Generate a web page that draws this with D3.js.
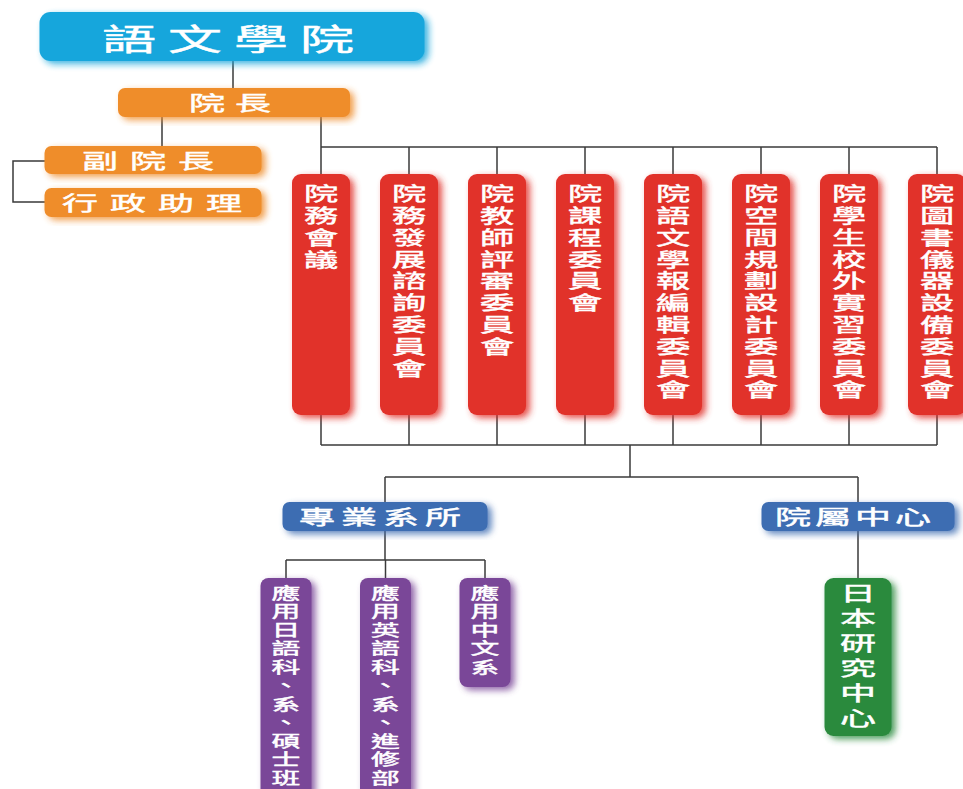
<html>
<script src="https://d3js.org/d3.v7.min.js"></script>
<body style="margin:0;background:#fff">
<div id="chart-container"></div>
<script>
// org chart data
const title = "語文學院";
const dean = "院長";
const staff = ["副院長", "行政助理"];
const committees = ["院務會議", "院務發展諮詢委員會", "院教師評審委員會", "院課程委員會",
                    "院語文學報編輯委員會", "院空間規劃設計委員會", "院學生校外實習委員會", "院圖書儀器設備委員會"];
const units = ["專業系所", "院屬中心"];
const departments = ["應用日語科、系、碩士班", "應用英語科、系、進修部", "應用中文系"];
const centers = ["日本研究中心"];

const width = 963, height = 789;
const sx = 1.8;   // the picture is stretched sideways
const font = "'Noto Sans CJK TC', 'Noto Sans CJK SC', sans-serif";
const lineColor = "#3a3a3a";

const svg = d3.select("#chart-container").append("svg")
  .attr("width", width).attr("height", height);

// soft coloured shadow under every box
const f = svg.append("defs").append("filter").attr("id", "glow")
  .attr("x", "-30%").attr("y", "-30%").attr("width", "160%").attr("height", "160%");
f.append("feGaussianBlur").attr("in", "SourceGraphic").attr("stdDeviation", 3.5).attr("result", "b");
f.append("feOffset").attr("in", "b").attr("dx", 4).attr("dy", 3).attr("result", "o");
f.append("feComponentTransfer").attr("in", "o").attr("result", "s")
  .append("feFuncA").attr("type", "linear").attr("slope", 0.85);
const fm = f.append("feMerge");
fm.append("feMergeNode").attr("in", "s");
fm.append("feMergeNode").attr("in", "SourceGraphic");

// scales for the rows of boxes
const xCommittee = d3.scalePoint().domain(committees).range([321, 937]);
const xUnit = d3.scalePoint().domain(units).range([385, 858]);
const xDept = d3.scalePoint().domain(departments).range([286, 485]);
const xStaff = 153;

const gLines = svg.append("g").attr("stroke", lineColor).attr("stroke-width", 1.5).attr("fill", "none");
const gBoxes = svg.append("g");

function line(pts) {
  gLines.append("path").attr("d", d3.line()(pts));
}

function glyph(x, y, c, size) {
  gBoxes.append("text")
    .attr("transform", `translate(${x},${y}) scale(${sx},1)`)
    .attr("text-anchor", "middle").attr("dominant-baseline", "central")
    .attr("font-family", font).attr("font-size", size)
    .attr("fill", "#fff").attr("stroke", "#fff").attr("stroke-width", 0.45)
    .text(c);
}

// horizontal box, characters spread along a row
function hBox(cx, cy, w, h, r, color, text, size, step, tx) {
  gBoxes.append("rect")
    .attr("x", cx - w / 2).attr("y", cy - h / 2)
    .attr("width", w).attr("height", h).attr("rx", r)
    .attr("fill", color).attr("filter", "url(#glow)");
  const chars = Array.from(text);
  const x0 = tx - step * (chars.length - 1) / 2;
  chars.forEach((c, i) => glyph(x0 + i * step, cy, c, size));
}

// vertical box, characters stacked downwards
function vBox(cx, top, w, h, r, color, text, size, step, firstY) {
  const chars = Array.from(text);
  if (h == null) h = (firstY - top) + step * (chars.length - 1) + 21;
  gBoxes.append("rect")
    .attr("x", cx - w / 2).attr("y", top)
    .attr("width", w).attr("height", h).attr("rx", r)
    .attr("fill", color).attr("filter", "url(#glow)");
  chars.forEach((c, i) => glyph(cx, firstY + i * step, c, size));
}

// connectors
line([[233, 61], [233, 88]]);
line([[162, 117], [162, 146]]);
line([[45, 161], [13, 161], [13, 202], [45, 202]]);
line([[321, 117], [321, 147]]);
line([[xCommittee(committees[0]), 147], [xCommittee(committees[committees.length - 1]), 147]]);
committees.forEach(d => {
  line([[xCommittee(d), 147], [xCommittee(d), 174]]);
  line([[xCommittee(d), 415], [xCommittee(d), 445]]);
});
line([[xCommittee(committees[0]), 445], [xCommittee(committees[committees.length - 1]), 445]]);
line([[630, 445], [630, 477]]);
line([[xUnit(units[0]), 477], [xUnit(units[1]), 477]]);
units.forEach(d => line([[xUnit(d), 477], [xUnit(d), 502]]));
line([[xUnit(units[0]), 531], [xUnit(units[0]), 560]]);
line([[xDept(departments[0]), 560], [xDept(departments[departments.length - 1]), 560]]);
departments.forEach(d => line([[xDept(d), 560], [xDept(d), 578]]));
line([[xUnit(units[1]), 531], [xUnit(units[1]), 578]]);

// boxes
hBox(232, 36.5, 385, 49, 11, "#18a6dc", title, 30, 66, 228);
hBox(234, 102.5, 232, 29, 7, "#ef8d2a", dean, 20, 46, 230);
hBox(xStaff, 160, 217, 28, 7, "#ef8d2a", staff[0], 20, 48, 148);
hBox(xStaff, 202.5, 217, 29, 7, "#ef8d2a", staff[1], 20, 48, 152);

committees.forEach(d => vBox(xCommittee(d), 174, 58, 241, 9, "#e1302b", d, 19, 21.8, 193));

hBox(xUnit(units[0]), 516.5, 205, 29, 7, "#3d6db2", units[0], 20, 42, 380);
hBox(xUnit(units[1]), 516.5, 193, 29, 7, "#3d6db2", units[1], 20, 40, 853);

departments.forEach(d => vBox(xDept(d), 578, 51, null, 8, "#7a4698", d, 16, 18.5, 592));
centers.forEach(d => vBox(xUnit(units[1]), 578, 67, 158, 9, "#2b8a3e", d, 20, 25, 592));
</script>
</body>
</html>
